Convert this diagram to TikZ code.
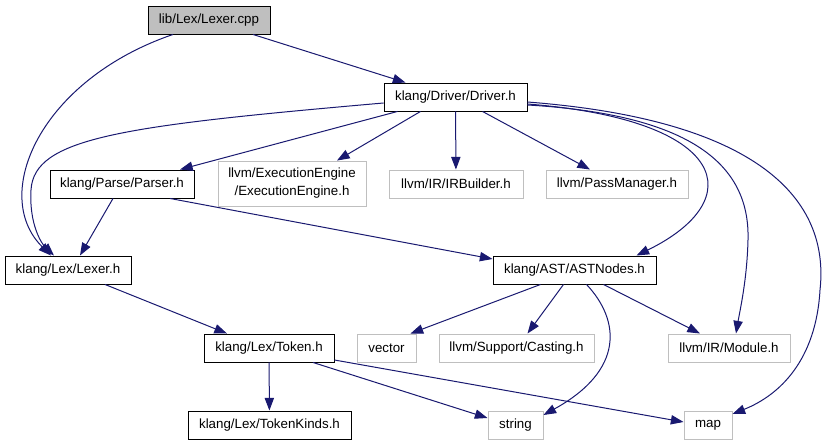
\documentclass[tikz,border=0pt]{standalone}
\usepackage{fontspec}
\setmainfont{Liberation Sans}
\usetikzlibrary{arrows.meta,calc}
\definecolor{edgeblue}{HTML}{191970}
\definecolor{boxgray}{HTML}{BFBFBF}
\tikzset{
  fil/.style={draw=black,line width=.7pt,fill=white,font=\fontsize{10}{13.5}\selectfont,
              align=center,inner sep=0pt,minimum height=21pt},
  sys/.style={fil,draw=boxgray},
  src/.style={fil,fill=boxgray},
  ar/.style ={draw=edgeblue,line width=.75pt,-{Triangle[length=9.5pt,width=7pt]}},
}
\begin{document}
\begin{tikzpicture}[x=.75pt,y=-.75pt]
  \useasboundingbox (0,0) rectangle (829,445);
  \node[src,minimum width=91.5pt] (cpp) at (209,20) {lib/Lex/Lexer.cpp};
  \node[fil,minimum width=107.25pt] (driver) at (455.5,97) {klang/Driver/Driver.h};
  \node[fil,minimum width=108pt] (parser) at (122,184) {klang/Parse/Parser.h};
  \node[sys,minimum width=111pt,minimum height=33.75pt] (exec) at (292,183.5) {llvm/ExecutionEngine\\/ExecutionEngine.h};
  \node[sys,minimum width=100.5pt] (irb) at (456,184) {llvm/IR/IRBuilder.h};
  \node[sys,minimum width=106.5pt] (pass) at (617,184) {llvm/PassManager.h};
  \node[fil,minimum width=94.5pt] (lexer) at (68,270) {klang/Lex/Lexer.h};
  \node[fil,minimum width=122.25pt] (ast) at (574.5,270) {klang/AST/ASTNodes.h};
  \node[fil,minimum width=97.5pt] (token) at (269,348) {klang/Lex/Token.h};
  \node[sys,minimum width=44.25pt] (vector) at (386.5,348) {vector};
  \node[sys,minimum width=116.25pt] (casting) at (516.5,348) {llvm/Support/Casting.h};
  \node[sys,minimum width=91.5pt] (module) at (729,348) {llvm/IR/Module.h};
  \node[fil,minimum width=122.25pt] (kinds) at (269.5,425) {klang/Lex/TokenKinds.h};
  \node[sys,minimum width=41.25pt] (string) at (515.5,425) {string};
  \node[sys,minimum width=36pt] (map) at (708,425) {map};
  % from the source file
  \draw[ar] ($(cpp.south)+(44,0)$) -- ($(driver.north)+(-50,0)$);
  \draw[ar] ($(cpp.south)+(-36,0)$) .. controls (40,80) and (-10,195) .. ($(lexer.north)+(-17,0)$);
  % from Driver.h
  \draw[ar] ($(driver.west)+(0,6)$) .. controls (120,126) and (34,138) .. (31,190)
            .. controls (29,225) and (42,244) .. ($(lexer.north)+(-14,0)$);
  \draw[ar] ($(driver.south)+(-58,0)$) -- ($(parser.north)+(58,0)$);
  \draw[ar] ($(driver.south)+(-35,0)$) -- ($(exec.north)+(45,0)$);
  \draw[ar] (driver) -- (irb);
  \draw[ar] ($(driver.south)+(27,0)$) -- ($(pass.north)+(-27,0)$);
  \draw[ar] ($(driver.east)+(0,7)$) .. controls (730,120) and (750,200) .. ($(ast.north)+(62,0)$);
  \draw[ar] ($(driver.east)+(0,8)$) .. controls (700,115) and (750,170) .. (748,240)
            .. controls (747,280) and (740,310) .. ($(module.north)+(7,0)$);
  \draw[ar] ($(driver.east)+(0,5)$) .. controls (760,120) and (830,200) .. (820,290)
            .. controls (816,360) and (780,395) .. ($(map.east)+(0,-11)$);
  % second level
  \draw[ar] ($(parser.south)+(-9,0)$) -- ($(lexer.north)+(12,0)$);
  \draw[ar] ($(parser.south)+(48,0)$) -- ($(ast.west)+(0,-11)$);
  \draw[ar] ($(lexer.south)+(37,0)$) -- ($(token.north)+(-42,0)$);
  \draw[ar] ($(ast.south)+(-34,0)$) -- ($(vector.north)+(24,0)$);
  \draw[ar] ($(ast.south)+(-11,0)$) -- ($(casting.north)+(11,0)$);
  \draw[ar] ($(ast.south)+(12,0)$) .. controls (620,320) and (625,370) .. ($(string.east)+(0,-10)$);
  \draw[ar] ($(ast.south)+(29,0)$) -- ($(module.north)+(-29,0)$);
  % from Token.h
  \draw[ar] (token) -- (kinds);
  \draw[ar] ($(token.south)+(44,0)$) -- ($(string.west)+(0,-7)$);
  \draw[ar] ($(token.east)+(0,12)$) -- ($(map.west)+(0,-3)$);
\end{tikzpicture}
\end{document}
